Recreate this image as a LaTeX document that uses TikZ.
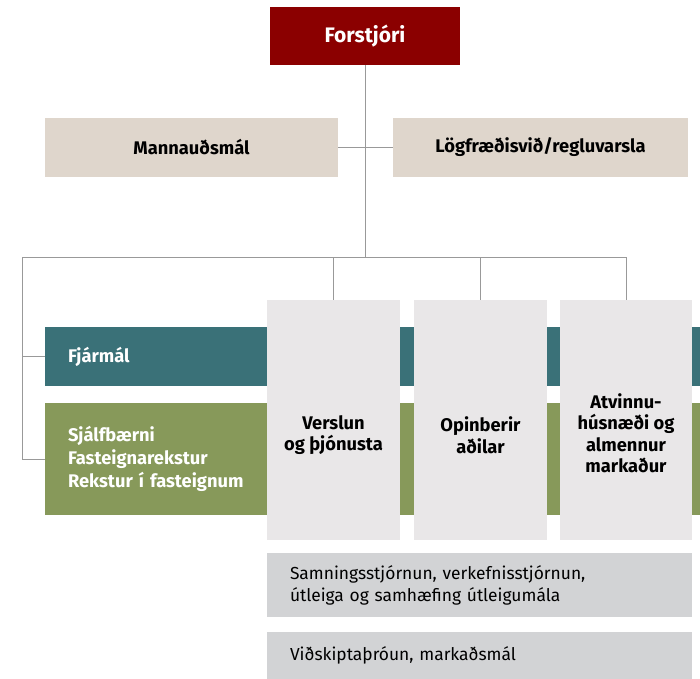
\documentclass[tikz,border=0pt]{standalone}
\usepackage{fontspec}
\setmainfont{Fira Sans}
\usetikzlibrary{calc}

\definecolor{chiefred}{HTML}{8B0000}
\definecolor{staffbeige}{HTML}{DFD6CC}
\definecolor{finteal}{HTML}{3A7178}
\definecolor{opsgreen}{HTML}{87995A}
\definecolor{colgray}{HTML}{E9E7E8}
\definecolor{lowgray}{HTML}{D2D3D5}
\definecolor{linegray}{HTML}{999999}

\begin{document}
\begin{tikzpicture}[x=1pt,y=-1pt,inner sep=0pt,outer sep=0pt,
    every node/.style={font=\fontsize{18.3}{21.5}\selectfont\bfseries},
    orgbox/.style={anchor=north west,align=center},
    bandbox/.style={anchor=north west,align=left,inner xsep=23pt,text=white},
    lowbox/.style={anchor=north west,align=left,inner xsep=23pt,fill=lowgray,
        font=\fontsize{17.4}{22}\selectfont},
    orgline/.style={draw=linegray,line width=0.9pt}]
    % frame
	\path[use as bounding box] (0,0) rectangle (700,678);
    % top
	\node[orgbox,fill=chiefred,text=white,minimum width=190pt,minimum height=58pt,
        font=\fontsize{21}{24}\selectfont\bfseries] (forstjori) at (270,7) {Forstjóri};
	\node[orgbox,fill=staffbeige,minimum width=293pt,minimum height=59pt] (mannaudur) at (45,118) {Mannauðsmál};
	\node[orgbox,fill=staffbeige,minimum width=295pt,minimum height=59pt] (logfraedi) at (393,118) {Lögfræðisvið/regluvarsla};
    % bands
	\node[bandbox,fill=finteal,text width=609pt,minimum height=59pt] (fjarmal) at (45,327) {Fjármál};
	\node[bandbox,fill=opsgreen,text width=609pt,minimum height=112pt,
        font=\fontsize{18.3}{23}\selectfont\bfseries] (rekstur) at (45,403)
        {Sjálfbærni\\Fasteignarekstur\\Rekstur í fasteignum};
    % columns
	\node[orgbox,fill=colgray,minimum width=133pt,minimum height=240pt] (verslun) at (267,300) {};
	\node[orgbox,fill=colgray,minimum width=133pt,minimum height=240pt] (opinberir) at (414,300) {};
	\node[orgbox,fill=colgray,minimum width=132pt,minimum height=240pt] (atvinnu) at (560,300) {};
	\node[align=center] (verslun_txt) at ($(verslun.center)+(0,15)$) {Verslun\\og þjónusta};
	\node[align=center] (opinberir_txt) at ($(opinberir.center)+(0,15)$) {Opinberir\\aðilar};
	\node[align=center] (atvinnu_txt) at ($(atvinnu.center)+(0,13)$) {Atvinnu-\\húsnæði og\\almennur\\markaður};
    % bottom
	\node[lowbox,text width=379pt,minimum height=64pt] (samningar) at (267,553) {Samningsstjórnun, verkefnisstjórnun,\\útleiga og samhæfing útleigumála};
	\node[lowbox,text width=379pt,minimum height=47pt] (vidskipti) at (267,632) {Viðskiptaþróun, markaðsmál};
    % lines
	\coordinate (hub) at (forstjori.south |- 0,257);
	\coordinate (left_top) at (22,257);
	\coordinate (left_bot) at (22,0 |- rekstur.west);
	\draw[orgline] (forstjori.south) -- (hub);
	\draw[orgline] (mannaudur.east) -- (logfraedi.west);
	\draw[orgline] (left_top) -- (atvinnu.north |- hub);
	\draw[orgline] (verslun.north |- hub) -- (verslun.north);
	\draw[orgline] (opinberir.north |- hub) -- (opinberir.north);
	\draw[orgline] (atvinnu.north |- hub) -- (atvinnu.north);
	\draw[orgline] (left_top) -- (left_bot) -- (rekstur.west);
	\draw[orgline] (left_top |- fjarmal.west) -- (fjarmal.west);

\end{tikzpicture}
\end{document}
